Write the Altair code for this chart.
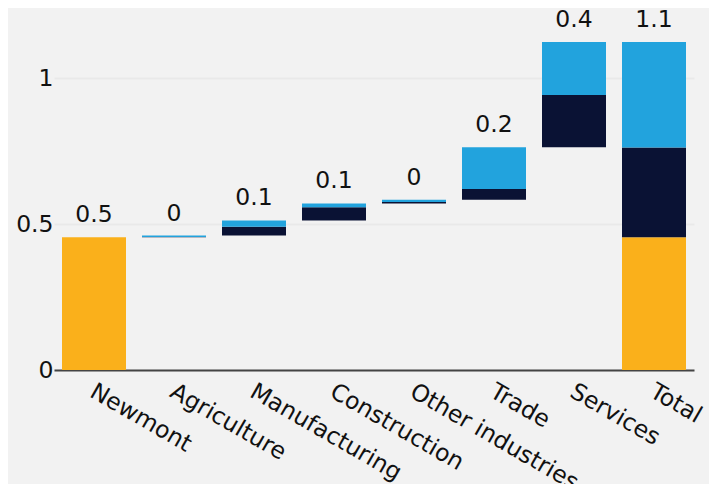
import altair as alt
import pandas as pd

categories = ["Newmont", "Agriculture", "Manufacturing", "Construction",
              "Other industries", "Trade", "Services", "Total"]
newmont_value = 0.455
industry_dark = [0.001, 0.030, 0.045, 0.005, 0.037, 0.179]
industry_blue = [0.005, 0.022, 0.013, 0.008, 0.143, 0.182]
total_dark = 0.308
total_blue = 0.362
bar_labels = ["0.5", "0", "0.1", "0.1", "0", "0.2", "0.4", "1.1"]

seg_names = ["Newmont", "Direct", "Indirect"]
seg_colors = ["#FAB01B", "#0A1234", "#22A3DD"]

rows = []
tops = []
rows.append({"cat": categories[0], "seg": "Newmont", "y": 0.0, "y2": newmont_value})
tops.append(newmont_value)
run = newmont_value
for i, cat in enumerate(categories[1:-1]):
    d0, d1 = run, run + industry_dark[i]
    b1 = d1 + industry_blue[i]
    rows.append({"cat": cat, "seg": "Direct", "y": d0, "y2": d1})
    rows.append({"cat": cat, "seg": "Indirect", "y": d1, "y2": b1})
    run = b1
    tops.append(b1)
t1 = newmont_value + total_dark
t2 = t1 + total_blue
rows.append({"cat": "Total", "seg": "Newmont", "y": 0.0, "y2": newmont_value})
rows.append({"cat": "Total", "seg": "Direct", "y": newmont_value, "y2": t1})
rows.append({"cat": "Total", "seg": "Indirect", "y": t1, "y2": t2})
tops.append(t2)

bars_df = pd.DataFrame(rows)
labels_df = pd.DataFrame({"cat": categories, "top": tops, "label": bar_labels})

FONT = "DejaVu Sans"
FS = 23.5

x_enc = alt.X("cat:N", sort=categories, title=None,
              scale=alt.Scale(paddingInner=0.2, paddingOuter=0.1),
              axis=alt.Axis(labelAngle=30, labelAlign="left", labelBaseline="top",
                            labelOffset=4, labelPadding=9, ticks=False, labelLimit=0,
                            domainColor="#444444", domainWidth=2,
                            labelFont=FONT, labelFontSize=FS, labelColor="#111111",
                            grid=False))
y_scale = alt.Scale(domain=[0, 1.2], nice=False)

bars = alt.Chart(bars_df).mark_bar().encode(
    x=x_enc,
    y=alt.Y("y:Q", scale=y_scale, title=None,
            axis=alt.Axis(values=[0, 0.5, 1], labelExpr="datum.value", domain=False,
                          ticks=False, labelPadding=1, labelFont=FONT,
                          labelFontSize=FS, labelColor="#111111",
                          gridColor="#e9e9e9", gridWidth=2)),
    y2="y2:Q",
    color=alt.Color("seg:N", scale=alt.Scale(domain=seg_names, range=seg_colors),
                    legend=None),
)

texts = alt.Chart(labels_df).mark_text(
    baseline="alphabetic", dy=-15, font=FONT, fontSize=FS, color="#111111"
).encode(
    x=alt.X("cat:N", sort=categories),
    y=alt.Y("top:Q", scale=y_scale),
    text="label:N",
)

chart = alt.layer(bars, texts).properties(
    width=640, height=350,
    autosize=alt.AutoSizeParams(type="none"),
    padding={"left": 46, "top": 12, "right": 15, "bottom": 114},
    background="#f2f2f2",
).configure_view(stroke=None)

chart.save("out.html", embed_options={"renderer": "svg", "actions": False})
